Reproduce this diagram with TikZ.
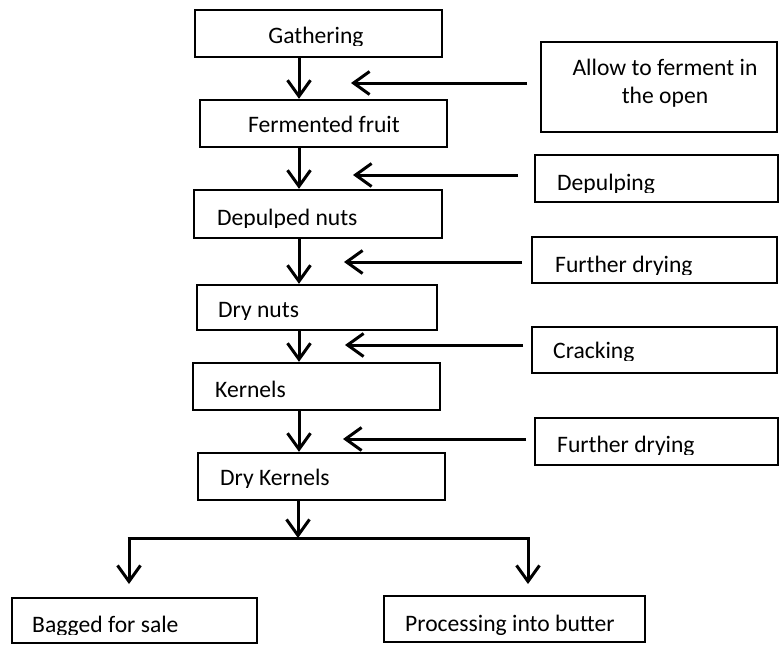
\documentclass[tikz,border=0pt]{standalone}
\usepackage{fontspec}
\setmainfont{Carlito}
\usetikzlibrary{arrows.meta}
\begin{document}
\begin{tikzpicture}[x=1pt,y=-1pt,
  box/.style={draw=black,line width=2.4pt,rectangle,inner sep=0pt},
  txt/.style={inner sep=0pt,font=\fontsize{23.6}{28}\selectfont},
  flow/.style={line width=3pt,-{Straight Barb[length=16pt,width=23pt,line width=3pt]}},
  bar/.style={line width=3pt}]
\useasboundingbox (0,0) rectangle (779,645);

% main column boxes (centre, size)
\node[box,minimum width=247pt,minimum height=47pt] (gath) at (318.5,33.5) {};
\node[box,minimum width=247pt,minimum height=47pt] (ferm) at (323.5,123.5) {};
\node[box,minimum width=248pt,minimum height=48pt] (depn) at (318,214) {};
\node[box,minimum width=240pt,minimum height=45pt] (dryn) at (317,307.5) {};
\node[box,minimum width=247pt,minimum height=47pt] (kern) at (316.5,386.5) {};
\node[box,minimum width=247pt,minimum height=47pt] (dryk) at (321.5,476.5) {};

% side boxes
\node[box,minimum width=236pt,minimum height=90pt] (allow) at (659,87) {};
\node[box,minimum width=243pt,minimum height=47pt] (depu) at (656.5,178.5) {};
\node[box,minimum width=245pt,minimum height=46pt] (fdry1) at (654.5,260) {};
\node[box,minimum width=245pt,minimum height=46pt] (crack) at (654.5,350) {};
\node[box,minimum width=243pt,minimum height=47pt] (fdry2) at (656.5,441.5) {};

% end products
\node[box,minimum width=245pt,minimum height=45pt] (bag) at (134.5,620.5) {};
\node[box,minimum width=261pt,minimum height=46pt] (proc) at (514.5,619) {};

% labels; the text frames cut descenders off just under the baseline
\begin{scope}\clip (0,0) rectangle (779,45.5);
\node[txt,anchor=base] (gath-t) at (316,43) {Gathering};\end{scope}
\node[txt,anchor=base] (ferm-t) at (324,132) {Fermented fruit};
\begin{scope}\clip (0,0) rectangle (779,227.5);
\node[txt,anchor=base west] (depn-t) at (217,225) {Depulped nuts};\end{scope}
\begin{scope}\clip (0,0) rectangle (779,319.5);
\node[txt,anchor=base west] (dryn-t) at (218,317) {Dry nuts};\end{scope}
\node[txt,anchor=base west] (kern-t) at (215,397) {Kernels};
\begin{scope}\clip (0,0) rectangle (779,487.5);
\node[txt,anchor=base west] (dryk-t) at (220,485) {Dry Kernels};\end{scope}
\node[txt,anchor=base] (allow-t1) at (665,75) {Allow to ferment in};
\node[txt,anchor=base] (allow-t2) at (665,103) {the open};
\begin{scope}\clip (0,0) rectangle (779,192.5);
\node[txt,anchor=base west] (depu-t) at (557,190) {Depulping};\end{scope}
\begin{scope}\clip (0,0) rectangle (779,274.5);
\node[txt,anchor=base west] (fdry1-t) at (555,272) {Further drying};\end{scope}
\begin{scope}\clip (0,0) rectangle (779,360.5);
\node[txt,anchor=base west] (crack-t) at (553,358) {Cracking};\end{scope}
\begin{scope}\clip (0,0) rectangle (779,454.5);
\node[txt,anchor=base west] (fdry2-t) at (557,452) {Further drying};\end{scope}
\begin{scope}\clip (0,0) rectangle (779,634.5);
\node[txt,anchor=base west] (bag-t) at (32,632) {Bagged for sale};
\node[txt,anchor=base west] (proc-t) at (405,631) {Processing into butter};\end{scope}

% line positions
\coordinate (col) at (299,0);
\coordinate (in1s) at (527,83);  \coordinate (in1e) at (351,83);
\coordinate (in2s) at (518,175); \coordinate (in2e) at (353,175);
\coordinate (in3s) at (522,262); \coordinate (in3e) at (344,262);
\coordinate (in4s) at (523,345); \coordinate (in4e) at (345,345);
\coordinate (in5s) at (526,439); \coordinate (in5e) at (343,439);
\coordinate (split) at (298,538);
\coordinate (splitL) at (129,538);
\coordinate (splitR) at (528,538);
\coordinate (outL) at (129,584);
\coordinate (outR) at (528,584);

% main flow
\draw[flow] (gath.south -| col) -- (ferm.north -| col);
\draw[flow] (ferm.south -| col) -- (depn.north -| col);
\draw[flow] (depn.south -| col) -- (dryn.north -| col);
\draw[flow] (dryn.south -| col) -- (kern.north -| col);
\draw[flow] (kern.south -| col) -- (dryk.north -| col);
\draw[flow] (dryk.south -| split) -- (split);

% treatments feeding in from the right
\draw[flow] (in1s) -- (in1e);
\draw[flow] (in2s) -- (in2e);
\draw[flow] (in3s) -- (in3e);
\draw[flow] (in4s) -- (in4e);
\draw[flow] (in5s) -- (in5e);

% branching to the two end uses
\draw[bar] ([xshift=-1.5pt]splitL) -- ([xshift=1.5pt]splitR);
\draw[flow] ([yshift=-1.5pt]splitL) -- (outL);
\draw[flow] ([yshift=-1.5pt]splitR) -- (outR);
\end{tikzpicture}
\end{document}
